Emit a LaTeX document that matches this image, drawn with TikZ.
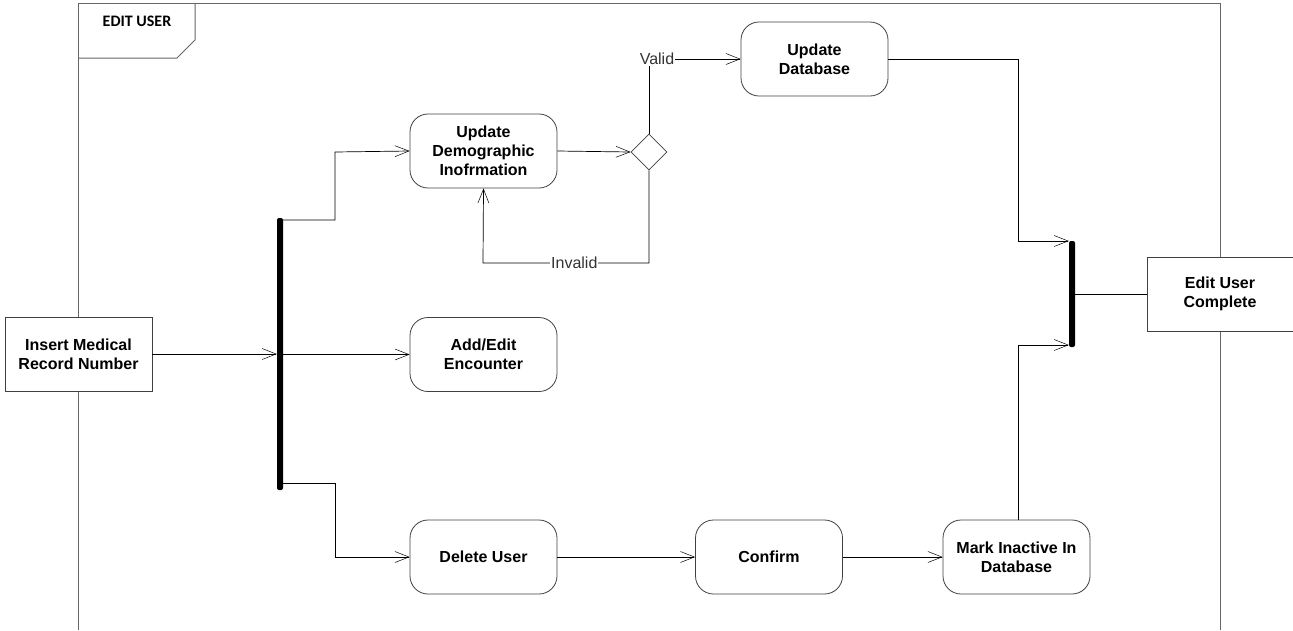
\documentclass[tikz,border=0pt]{standalone}
\usepackage{fontspec}
\setmainfont{Liberation Sans}
\newfontfamily\calib{Carlito}
\usetikzlibrary{arrows.meta,shapes.geometric}
\begin{document}
\begin{tikzpicture}[x=1pt,y=-1pt,
  act/.style={draw=black!75,line width=0.8pt,rounded corners=18pt,fill=white,minimum width=147pt,minimum height=74pt,align=center,font=\fontsize{16}{19}\selectfont\bfseries},
  sq/.style={draw=black!75,line width=0.8pt,fill=white,minimum width=147pt,minimum height=74pt,align=center,font=\fontsize{16}{19}\selectfont\bfseries},
  bar/.style={fill=black,inner sep=0pt,minimum width=6pt,rounded corners=2pt},
  flow/.style={line width=0.7pt,-{Straight Barb[length=14pt,width=11pt,line width=0.5pt]}},
  plain/.style={line width=0.7pt},
  lbl/.style={fill=white,inner sep=1pt,font=\fontsize{16}{18}\selectfont,text=black!80}
]
\useasboundingbox (0,0) rectangle (1293,630);
% frame
\draw[black!60,line width=1pt] (78,630) -- (78,3) -- (1220,3) -- (1220,630);
\draw[black!60,line width=1pt] (78,58) -- (177,58) -- (195,40) -- (195,3);
\node[font=\calib\bfseries\fontsize{16}{18}\selectfont] (title) at (137,21) {EDIT USER};
% nodes
\node[sq] (imr) at (78.5,354) {Insert Medical\\Record Number};
\node[bar,minimum height=272pt] (fork) at (280,354) {};
\node[act] (udi) at (483.5,151) {Update\\Demographic\\Inofrmation};
\node[act] (aee) at (483.5,354.5) {Add/Edit\\Encounter};
\node[act] (del) at (483.5,557) {Delete User};
\node[act] (conf) at (769,557) {Confirm};
\node[act] (mark) at (1016.5,557) {Mark Inactive In\\Database};
\node[act] (udb) at (814.5,59) {Update\\Database};
\node[draw=black!75,line width=0.8pt,fill=white,diamond,minimum width=36pt,minimum height=36pt,inner sep=0pt] (dec) at (649,152) {};
\node[bar,minimum height=106pt] (join) at (1072,294) {};
\node[sq,minimum width=146pt] (euc) at (1220,294) {Edit User\\Complete};
% connectors
\draw[flow] (imr.east) -- (fork.west |- imr.east);
\draw[flow] (fork.east |- aee.west) -- (aee.west);
\draw[flow] (fork.east |- 0,220) -| (335,152) -- (udi.west);
\draw[flow] (fork.east |- 0,483) -| (335,557) -- (del.west);
\draw[flow] (udi.east) -- (dec.west);
\draw[flow] (dec.north) -- (649,59) node[lbl,pos=1,xshift=8pt] (vl) {Valid} -- (udb.west);
\draw[flow] (dec.south) -- (649,263) -- (483,263) node[lbl,pos=0.45] (il) {Invalid} -- (udi.south);
\draw[flow] (del.east) -- (conf.west);
\draw[flow] (conf.east) -- (mark.west);
\draw[flow] (udb.east) -- (1018,59) -- (1018,241) -- (join.west |- 0,241);
\draw[flow] (mark.north -| 1018,0) -- (1018,345) -- (join.west |- 0,345);
\draw[plain] (join.east |- euc.west) -- (euc.west);
\end{tikzpicture}
\end{document}
